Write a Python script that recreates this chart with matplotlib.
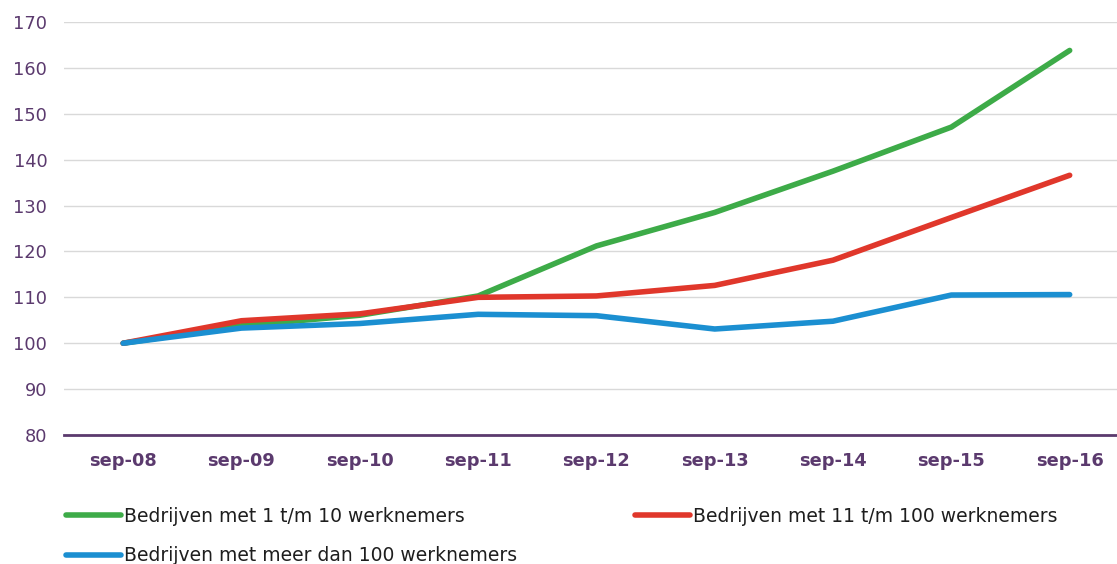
import matplotlib
matplotlib.use("Agg")
import matplotlib.pyplot as plt

categories = ["sep-08", "sep-09", "sep-10", "sep-11", "sep-12", "sep-13", "sep-14", "sep-15", "sep-16"]
small = [100, 103.8, 106.1, 110.3, 121.2, 128.5, 137.5, 147.1, 163.8]
medium = [100, 104.9, 106.4, 110.0, 110.3, 112.6, 118.1, 127.4, 136.6]
large = [100, 103.3, 104.3, 106.3, 106.0, 103.1, 104.8, 110.5, 110.6]
names = ["Bedrijven met 1 t/m 10 werknemers",
         "Bedrijven met 11 t/m 100 werknemers",
         "Bedrijven met meer dan 100 werknemers"]
yticks = list(range(80, 171, 10))

purple = "#5b3a6e"
colors = ["#3dab48", "#e0372b", "#1b8fd1"]

plt.rcParams['font.family'] = ['DejaVu Sans']
fig = plt.figure(figsize=(11.17, 5.64), dpi=100)
ax = fig.add_axes([64/1117, 1-435/564, (1117-64)/1117, (435-22)/564])

x = list(range(len(categories)))
lines = []
for vals, c, n in zip([small, medium, large], colors, names):
    l, = ax.plot(x, vals, color=c, lw=4.0, solid_capstyle='round', solid_joinstyle='round', label=n)
    lines.append(l)
lines[2].set_zorder(4); lines[1].set_zorder(3); lines[0].set_zorder(2)

ax.set_ylim(80, 170)
ax.set_xlim(-0.5, 8.4)
ax.set_yticks(yticks)
ax.set_xticks(x)
ax.set_xticklabels(categories, fontweight='bold')
ax.grid(axis='y', color='#d9d9d9', lw=1)
ax.set_axisbelow(True)
for s in ['top', 'right', 'left']:
    ax.spines[s].set_visible(False)
ax.spines['bottom'].set_color(purple)
ax.spines['bottom'].set_linewidth(2)
ax.spines['bottom'].set_zorder(5)
ax.tick_params(axis='both', length=0, colors=purple, labelsize=12.8)
ax.tick_params(axis='y', pad=12)
ax.tick_params(axis='x', pad=12)

handles = [lines[0], lines[2], lines[1]]
leg = fig.legend(handles=handles, labels=[h.get_label() for h in handles], ncol=2,
                 loc='upper left', bbox_to_anchor=(58/1117, 1-499/564), frameon=False,
                 fontsize=13.5, handlelength=2.95, handletextpad=0.15, columnspacing=6.3,
                 labelspacing=1.1, borderaxespad=0)
for t in leg.get_texts():
    t.set_color('#1e1e1e')

fig.savefig("out.png", dpi=100)
